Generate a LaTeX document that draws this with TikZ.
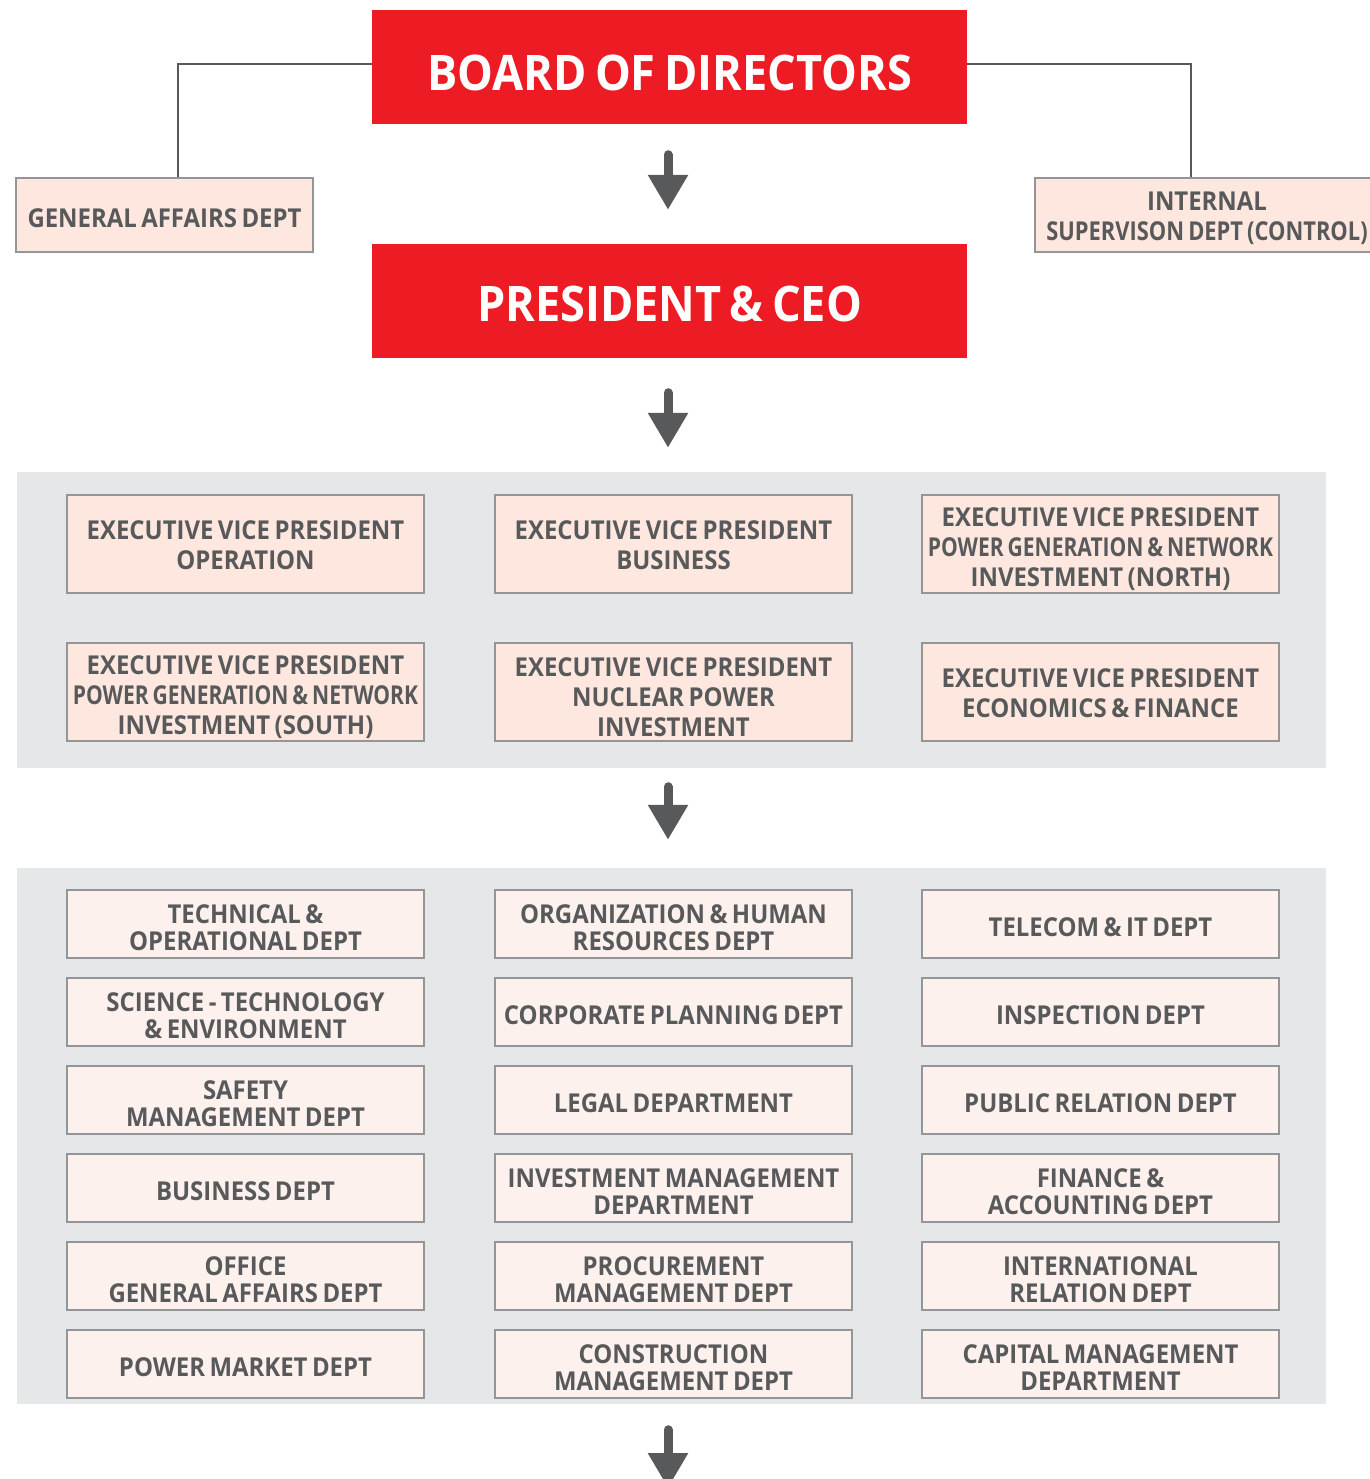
\documentclass[tikz,border=0pt]{standalone}
\usepackage{fontspec}
\usepackage{graphicx}
\setmainfont{Open Sans}[FakeStretch=0.92,WordSpace=0.72]
\usetikzlibrary{arrows.meta}
\hyphenpenalty=10000
\exhyphenpenalty=10000
\definecolor{cred}{HTML}{ED1C24}
\definecolor{ctext}{HTML}{58595B}
\definecolor{cevp}{HTML}{FDE7DE}
\definecolor{cdept}{HTML}{FDF1ED}
\definecolor{cborder}{HTML}{939598}
\definecolor{cpanel}{HTML}{E6E7E8}
\newcommand\narrowline[2]{\scalebox{#1}[1]{#2}}
\begin{document}
\begin{tikzpicture}[x=1pt,y=-1pt,
  topbox/.style={fill=cred,draw=none,minimum width=595,minimum height=114,inner sep=0,
     text=white,font=\fontsize{49}{56}\selectfont\bfseries,text depth=0pt},
  sidebox/.style={fill=cevp,draw=cborder,line width=1.2,minimum width=297,minimum height=74,inner sep=0,
     text=ctext,align=center,font=\fontsize{26}{30}\selectfont\bfseries,
     execute at begin node={\rule{0pt}{25pt}}},
  evpbox/.style={fill=cevp,draw=cborder,line width=1.2,minimum width=357,minimum height=98,inner sep=0,
     text=ctext,align=center,font=\fontsize{26}{30}\selectfont\bfseries,
     execute at begin node={\rule{0pt}{51pt}}},
  evpthree/.style={execute at begin node={\rule{0pt}{88.5pt}}},
  deptbox/.style={fill=cdept,draw=cborder,line width=1.2,minimum width=357,minimum height=68,inner sep=0,
     text=ctext,align=center,font=\fontsize{26}{27}\selectfont\bfseries,
     execute at begin node={\rule{0pt}{26pt}}},
  depttwo/.style={execute at begin node={\rule{0pt}{53pt}}},
  panel/.style={fill=cpanel,draw=none,minimum width=1309,inner sep=0},
  bigarrow/.style={draw=ctext,line width=9,line cap=round,
     -{Triangle[width=38pt,length=35pt]},fill=ctext},
  link/.style={draw=ctext,line width=2}]
\useasboundingbox (0,0) rectangle (1369,1479);
\fill[white] (0,0) rectangle (1369,1479);
% panels
\node[panel,minimum height=296] (p1) at (671.5,620) {};
\node[panel,minimum height=536] (p2) at (671.5,1136) {};
% top boxes
\node[topbox,text height=47pt] (board) at (669.5,67) {BOARD OF DIRECTORS};
\node[topbox,text height=40pt] (pres) at (669.5,301) {PRESIDENT \& CEO};
\node[sidebox] (gad) at (164.5,215) {GENERAL AFFAIRS DEPT};
\node[sidebox,minimum width=344,execute at begin node={\rule{0pt}{55pt}}] (isd) at (1207,215) {INTERNAL\\\narrowline{0.915}{SUPERVISON DEPT (CONTROL)}};
\draw[link] (board.west|-0,64) -| (gad.north-|178,0);
\draw[link] (board.east|-0,64) -| (isd.north-|1191,0);
% EVP
\node[evpbox] (e11) at (245.5,544) {EXECUTIVE VICE PRESIDENT\\OPERATION};
\node[evpbox] (e12) at (673.5,544) {EXECUTIVE VICE PRESIDENT\\BUSINESS};
\node[evpbox,evpthree] (e13) at (1100.5,544) {EXECUTIVE VICE PRESIDENT\\\narrowline{0.88}{POWER GENERATION \& NETWORK}\\INVESTMENT (NORTH)};
\node[evpbox,evpthree] (e21) at (245.5,692) {EXECUTIVE VICE PRESIDENT\\\narrowline{0.88}{POWER GENERATION \& NETWORK}\\INVESTMENT (SOUTH)};
\node[evpbox,evpthree] (e22) at (673.5,692) {EXECUTIVE VICE PRESIDENT\\NUCLEAR POWER\\INVESTMENT};
\node[evpbox] (e23) at (1100.5,692) {EXECUTIVE VICE PRESIDENT\\ECONOMICS \& FINANCE};
% departments
\node[deptbox,depttwo] (d11) at (245.5,924) {TECHNICAL \&\\OPERATIONAL DEPT};
\node[deptbox,depttwo] (d12) at (673.5,924) {ORGANIZATION \& HUMAN\\RESOURCES DEPT};
\node[deptbox] (d13) at (1100.5,924) {TELECOM \& IT DEPT};
\node[deptbox,depttwo] (d21) at (245.5,1012) {SCIENCE - TECHNOLOGY\\\& ENVIRONMENT};
\node[deptbox] (d22) at (673.5,1012) {CORPORATE PLANNING DEPT};
\node[deptbox] (d23) at (1100.5,1012) {INSPECTION DEPT};
\node[deptbox,depttwo] (d31) at (245.5,1100) {SAFETY\\MANAGEMENT DEPT};
\node[deptbox] (d32) at (673.5,1100) {LEGAL DEPARTMENT};
\node[deptbox] (d33) at (1100.5,1100) {PUBLIC RELATION DEPT};
\node[deptbox] (d41) at (245.5,1188) {BUSINESS DEPT};
\node[deptbox,depttwo] (d42) at (673.5,1188) {INVESTMENT MANAGEMENT\\DEPARTMENT};
\node[deptbox,depttwo] (d43) at (1100.5,1188) {FINANCE \&\\ACCOUNTING DEPT};
\node[deptbox,depttwo] (d51) at (245.5,1276) {OFFICE\\GENERAL AFFAIRS DEPT};
\node[deptbox,depttwo] (d52) at (673.5,1276) {PROCUREMENT\\MANAGEMENT DEPT};
\node[deptbox,depttwo] (d53) at (1100.5,1276) {INTERNATIONAL\\RELATION DEPT};
\node[deptbox] (d61) at (245.5,1364) {POWER MARKET DEPT};
\node[deptbox,depttwo] (d62) at (673.5,1364) {CONSTRUCTION\\MANAGEMENT DEPT};
\node[deptbox,depttwo] (d63) at (1100.5,1364) {CAPITAL MANAGEMENT\\DEPARTMENT};
% arrows
\coordinate (endc) at (668,1488);
\draw[bigarrow] ([yshift=-30.5]board.south-|668,0) -- ([yshift=34]pres.north-|668,0);
\draw[bigarrow] ([yshift=-34.5]pres.south-|668,0) -- ([yshift=24]p1.north-|668,0);
\draw[bigarrow] ([yshift=-18.5]p1.south-|668,0) -- ([yshift=28]p2.north-|668,0);
\draw[bigarrow] ([yshift=-25.5]p2.south-|668,0) -- (endc);
\end{tikzpicture}
\end{document}
